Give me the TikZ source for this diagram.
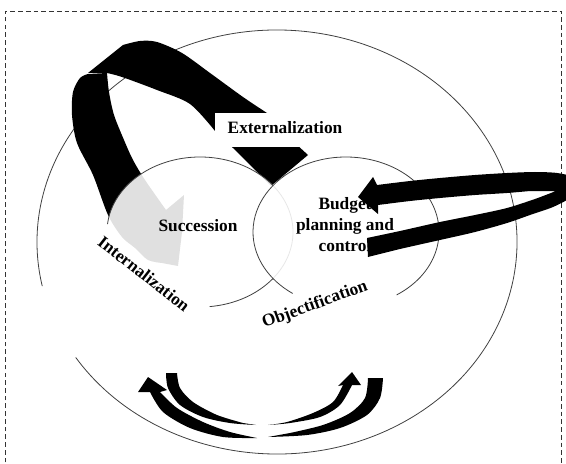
\documentclass[tikz,border=0pt]{standalone}
\usepackage{fontspec}
\setmainfont{Liberation Serif}

\begin{document}
\begin{tikzpicture}[x=0.75pt,y=0.75pt,
    ring/.style={draw=black!75,line width=0.6pt},
    veil/.style={fill=white,fill opacity=0.88},
    lbl/.style={font=\bfseries\fontsize{13}{15.75}\selectfont,inner sep=0pt}]
  \clip (0,0) rectangle (566,-463);
  \draw[black!80,line width=0.6pt,dash pattern=on 3.5pt off 2.3pt]
    (5.5,-470) -- (5.5,-11) -- (561,-11) -- (561,-470);
  \draw[ring] (277,-242) ++(213:240 and 212)
    arc[start angle=213,end angle=552,x radius=240,y radius=212];
  \fill (88,-73) -- plot[smooth] coordinates {(123,-45) (140,-41) (157,-42) (182,-53) (210,-73) (243,-97) (267,-113)}
    -- (284,-133) -- (308,-155) -- (271,-186) -- (233,-148)
    -- plot[smooth] coordinates {(215,-131) (190,-104) (157,-90) (122,-77) (107,-73)} -- cycle;
  \fill plot[smooth] coordinates {(107,-73) (109,-92) (114,-115) (124,-140) (133,-160) (145,-180) (166,-210)}
    -- (184,-195) -- (182,-232) -- (178,-266)
    -- plot[smooth] coordinates {(162,-263) (148,-260) (135,-248) (122,-237) (108,-215) (93,-175) (77,-143) (72,-115) (73,-92) (80,-78) (88,-74)} -- cycle;
  \fill[veil] (200,-232) ellipse [x radius=93,y radius=75];
  \draw[ring] (200,-232) ++(276:93 and 75)
    arc[start angle=276,end angle=534,x radius=93,y radius=75];
  \fill[veil] (346,-232) ellipse [x radius=93,y radius=75];
  \draw[ring] (346,-232) ++(303:93 and 75)
    arc[start angle=303,end angle=595,x radius=93,y radius=75];
  \node[lbl] (succ) at (198,-226) {Succession};
  \node[lbl,align=center] (budget) at (345,-225) {Budget\\planning and\\control};
  \fill plot[smooth] coordinates {(367,-238) (400,-231) (440,-222) (475,-215) (507,-208) (535,-199) (556,-191)}
    -- plot[smooth] coordinates {(530,-191) (507,-193) (475,-195) (440,-198) (410,-201) (378,-205)}
    -- (378,-214) -- (358,-197) -- (373,-177)
    -- plot[smooth] coordinates {(377,-185) (410,-181) (440,-178) (475,-175) (507,-173) (535,-172) (557,-173) (572,-177) (578,-188) (570,-198) (553,-207) (530,-215) (507,-223) (475,-232) (440,-240) (400,-249) (368,-257)} -- cycle;
  \fill[white] (215,-113) rectangle (350,-147);
  \node[lbl] (extern) at (285,-127.5) {Externalization};
  \node[lbl,rotate=-38] (intern) at (144,-274) {Internalization};
  \node[lbl,rotate=20] (object) at (315,-305) {Objectification};
  \fill plot[smooth] coordinates {(257,-438) (223,-437) (190,-428) (163,-412) (150,-392)}
    -- (138,-392) -- (148,-377) -- (167,-390)
    -- plot[smooth] coordinates {(160,-392) (177,-408) (203,-422) (230,-432) (257,-438)} -- cycle;
  \fill plot[smooth] coordinates {(166,-373) (168,-388) (180,-405) (203,-417) (230,-423) (256,-425)}
    -- plot[smooth] coordinates {(243,-423) (217,-415) (193,-402) (180,-388) (177,-373)} -- cycle;
  \fill plot[smooth] coordinates {(268,-425) (290,-423) (320,-417) (340,-405) (352,-385)}
    -- (361,-385) -- (352,-372) -- (338,-386)
    -- plot[smooth] coordinates {(343,-385) (333,-402) (313,-413) (287,-422) (268,-425)} -- cycle;
  \fill plot[smooth] coordinates {(383,-378) (380,-398) (367,-415) (340,-428) (307,-435) (268,-437)}
    -- plot[smooth] coordinates {(290,-433) (323,-425) (350,-413) (365,-398) (368,-378)} -- cycle;
\end{tikzpicture}
\end{document}
